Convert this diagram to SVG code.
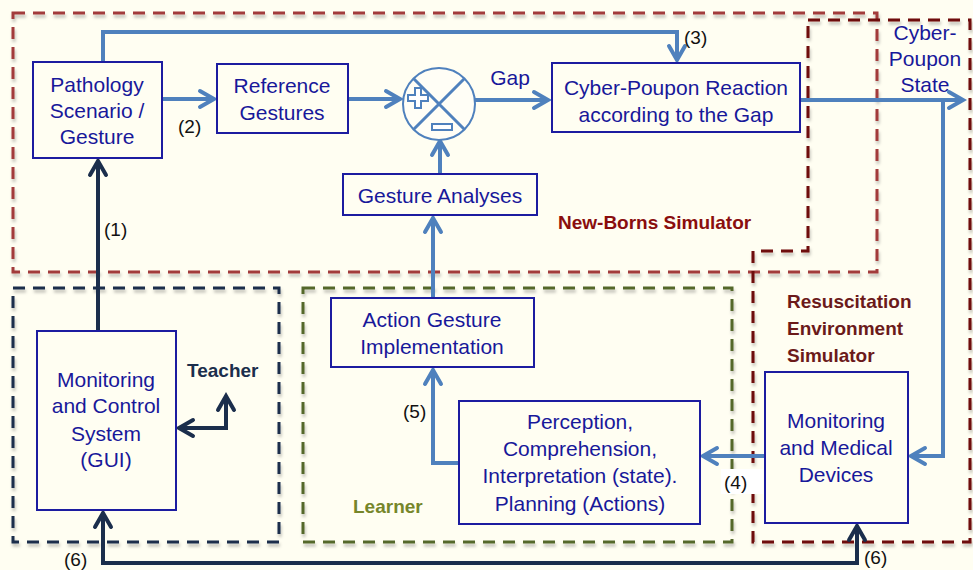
<svg xmlns="http://www.w3.org/2000/svg" width="973" height="570" viewBox="0 0 973 570">
<style>
.bg{fill:#FFFEF2}
.node rect{fill:none;stroke:#1C1CA0;stroke-width:2}
.nt{font-family:"Liberation Sans",Arial,sans-serif;font-size:21px;fill:#18189A;text-anchor:middle}
.lbl{font-family:"Liberation Sans",Arial,sans-serif;font-size:19px;fill:#111111}
.grp{font-family:"Liberation Sans",Arial,sans-serif;font-size:19px;font-weight:bold}
.dash{fill:none;stroke-width:3;stroke-dasharray:12 8}
.blue{fill:none;stroke:#4F81BD;stroke-width:4;stroke-linejoin:miter}
.navy{fill:none;stroke:#1B2E4C;stroke-width:4;stroke-linejoin:miter}
</style>
<defs>
<filter id="sh" x="-5%" y="-5%" width="110%" height="110%">
<feDropShadow dx="1" dy="3" stdDeviation="1.5" flood-color="#000" flood-opacity="0.25"/>
</filter>
<marker id="ab" markerUnits="userSpaceOnUse" viewBox="-18 -11 22 22" refX="0" refY="0" markerWidth="22" markerHeight="22" orient="auto-start-reverse" overflow="visible">
<path d="M-14,-8 L0,0 L-14,8" fill="none" stroke="#4F81BD" stroke-width="4" stroke-linecap="round" stroke-linejoin="miter"/>
</marker>
<marker id="an" markerUnits="userSpaceOnUse" viewBox="-18 -11 22 22" refX="0" refY="0" markerWidth="22" markerHeight="22" orient="auto-start-reverse" overflow="visible">
<path d="M-14,-8 L0,0 L-14,8" fill="none" stroke="#1B2E4C" stroke-width="4" stroke-linecap="round" stroke-linejoin="miter"/>
</marker>
</defs>
<rect class="bg" x="0" y="0" width="973" height="570"/>

<g id="regions" filter="url(#sh)">
<rect id="newborns-region" class="dash" x="13" y="13" width="864" height="259" stroke="#A23B3B"/>
<path id="resuscitation-region" class="dash" d="M808,20 H970 V542 H753 V251 H808 Z" stroke="#6E0C0C"/>
<rect id="teacher-region" class="dash" x="13" y="288" width="266" height="254" stroke="#1B2E4C"/>
<rect id="learner-region" class="dash" x="303" y="288" width="429" height="254" stroke="#55682A"/>
</g>

<g id="connectors">
<path class="blue" d="M162,99 H214" marker-end="url(#ab)"/>
<path class="blue" d="M348,99 H400" marker-end="url(#ab)"/>
<path class="blue" d="M475,100 H548" marker-end="url(#ab)"/>
<path class="blue" d="M103,62 V32 H677 V60" marker-end="url(#ab)"/>
<path class="blue" d="M801,100 H963" marker-end="url(#ab)"/>
<path class="blue" d="M943,100 V456 H911" marker-end="url(#ab)"/>
<path class="blue" d="M765,456 H703" marker-end="url(#ab)"/>
<path class="blue" d="M459,463 H433 V370" marker-end="url(#ab)"/>
<path class="blue" d="M433,298 V218" marker-end="url(#ab)"/>
<path class="blue" d="M440,174 V141" marker-end="url(#ab)"/>
<path class="navy" d="M98,331 V161" marker-end="url(#an)"/>
<path class="navy" d="M179,428 H226 V396" marker-start="url(#an)" marker-end="url(#an)"/>
<path class="navy" d="M103,513 V563 H857 V526" marker-start="url(#an)" marker-end="url(#an)"/>
</g>

<g id="connector-labels">
<text class="nt" x="510" y="85">Gap</text>
<text class="lbl" x="684" y="44">(3)</text>
<text class="lbl" x="178" y="133">(2)</text>
<text class="lbl" x="104" y="236">(1)</text>
<text class="lbl" x="403" y="418">(5)</text>
<rect x="721" y="469" width="42" height="25" fill="#FFFFFF"/>
<text class="lbl" x="724" y="489">(4)</text>
<text class="lbl" x="64" y="566">(6)</text>
<text class="lbl" x="864" y="564">(6)</text>
</g>

<g id="group-labels">
<text class="grp" x="558" y="229" fill="#8A0E0E">New-Borns Simulator</text>
<text class="grp" x="787" y="308" fill="#6B1A1A">Resuscitation</text>
<text class="grp" x="787" y="335" fill="#6B1A1A">Environment</text>
<text class="grp" x="787" y="362" fill="#6B1A1A">Simulator</text>
<text class="grp" x="187" y="377" fill="#1B2E4C">Teacher</text>
<text class="grp" x="353" y="513" fill="#76862A">Learner</text>
<text class="nt" x="925" y="40">Cyber-</text>
<text class="nt" x="925" y="66">Poupon</text>
<text class="nt" x="925" y="92">State</text>
</g>

<g id="node-pathology" class="node">
<rect x="33" y="62" width="129" height="96"/>
<text class="nt" x="97" y="92">Pathology</text>
<text class="nt" x="97" y="118">Scenario /</text>
<text class="nt" x="97" y="144">Gesture</text>
</g>

<g id="node-reference" class="node">
<rect x="217" y="64" width="131" height="69"/>
<text class="nt" x="282" y="93">Reference</text>
<text class="nt" x="282" y="120">Gestures</text>
</g>

<g id="node-comparator">
<circle cx="439" cy="104" r="36" fill="#FFFEF6" stroke="#4F81BD" stroke-width="2"/>
<path d="M413.5,78.5 L464.5,129.5 M464.5,78.5 L413.5,129.5" stroke="#4F81BD" stroke-width="3" fill="none"/>
<path d="M415,88 h6 v7 h7 v6 h-7 v7 h-6 v-7 h-7 v-6 h7 z" fill="#FFFFFF" stroke="#4F81BD" stroke-width="2"/>
<rect x="432" y="124" width="20" height="6" fill="#FFFFFF" stroke="#4F81BD" stroke-width="2"/>
</g>

<g id="node-reaction" class="node">
<rect x="552" y="63" width="248" height="69"/>
<text class="nt" x="676" y="95">Cyber-Poupon Reaction</text>
<text class="nt" x="676" y="122">according to the Gap</text>
</g>

<g id="node-gesture-analyses" class="node">
<rect x="343" y="174" width="194" height="41"/>
<text class="nt" x="440" y="203">Gesture Analyses</text>
</g>

<g id="node-action" class="node">
<rect x="331" y="298" width="203" height="69"/>
<text class="nt" x="432" y="327">Action Gesture</text>
<text class="nt" x="432" y="354">Implementation</text>
</g>

<g id="node-perception" class="node">
<rect x="459" y="401" width="241" height="123"/>
<text class="nt" x="580" y="429">Perception,</text>
<text class="nt" x="580" y="456">Comprehension,</text>
<text class="nt" x="580" y="483">Interpretation (state).</text>
<text class="nt" x="580" y="511">Planning (Actions)</text>
</g>

<g id="node-gui" class="node">
<rect x="37" y="331" width="139" height="179"/>
<text class="nt" x="106" y="387">Monitoring</text>
<text class="nt" x="106" y="413">and Control</text>
<text class="nt" x="106" y="441">System</text>
<text class="nt" x="106" y="467">(GUI)</text>
</g>

<g id="node-medical" class="node">
<rect x="765" y="372" width="143" height="151"/>
<text class="nt" x="836" y="428">Monitoring</text>
<text class="nt" x="836" y="455">and Medical</text>
<text class="nt" x="836" y="482">Devices</text>
</g>
</svg>
